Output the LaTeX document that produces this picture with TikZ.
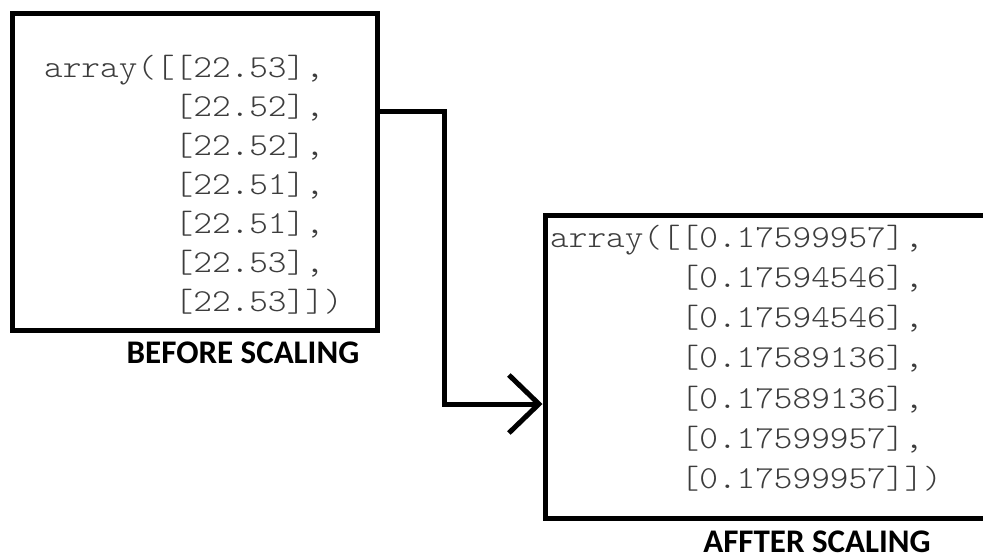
\documentclass[tikz,border=0pt]{standalone}
\usepackage{fontspec}
\usetikzlibrary{arrows.meta}
\newfontfamily\codefont[FakeStretch=1.11]{Latin Modern Mono Light}
\newfontfamily\labelfont{Carlito}
\definecolor{codegray}{HTML}{3C3C3C}
\begin{document}
\begin{tikzpicture}[x=1pt,y=-1pt,
  boxstyle/.style={draw=black,line width=5pt,inner sep=0pt,fill=none},
  codeline/.style={anchor=base west,inner sep=0pt,text=codegray,font=\codefont\fontsize{32}{39}\selectfont},
  caption/.style={anchor=base,inner sep=0pt,text depth=0pt,font=\labelfont\bfseries\fontsize{33}{36}\selectfont},
  conn/.style={line width=5pt,line join=miter,-{Straight Barb[length=30pt,width=58pt,line width=5pt]}}]
\useasboundingbox (0,0) rectangle (983,557);
\clip (0,0) rectangle (983,557);
\fill[white] (0,0) rectangle (983,557);
% boxes
\node[boxstyle,minimum width=365pt,minimum height=317pt] (before) at (195.4,171.5) {};
\node[boxstyle,minimum width=465pt,minimum height=303pt] (after) at (777.5,366.5) {};
% left code
\node[codeline] (l1) at (44,77)  {array([[22.53],};
\node[codeline] (l2) at (44,116) {\phantom{array([}[22.52],};
\node[codeline] (l3) at (44,155) {\phantom{array([}[22.52],};
\node[codeline] (l4) at (44,194) {\phantom{array([}[22.51],};
\node[codeline] (l5) at (44,233) {\phantom{array([}[22.51],};
\node[codeline] (l6) at (44,272) {\phantom{array([}[22.53],};
\node[codeline] (l7) at (44,311) {\phantom{array([}[22.53]])};
% right code
\node[codeline] (r1) at (550,247) {array([[0.17599957],};
\node[codeline] (r2) at (550,287) {\phantom{array([}[0.17594546],};
\node[codeline] (r3) at (550,327) {\phantom{array([}[0.17594546],};
\node[codeline] (r4) at (550,367) {\phantom{array([}[0.17589136],};
\node[codeline] (r5) at (550,408) {\phantom{array([}[0.17589136],};
\node[codeline] (r6) at (550,448) {\phantom{array([}[0.17599957],};
\node[codeline] (r7) at (550,488) {\phantom{array([}[0.17599957]])};
% captions
\node[caption] (capb) at (243,363) {BEFORE SCALING};
\node[caption] (capa) at (817,552) {AFFTER SCALING};
% connector
\coordinate (bend) at (444.5,404);
\draw[conn] ([yshift=60.5pt]before.east) -| (bend) -- ([yshift=-37.5pt]after.west);
\end{tikzpicture}
\end{document}
